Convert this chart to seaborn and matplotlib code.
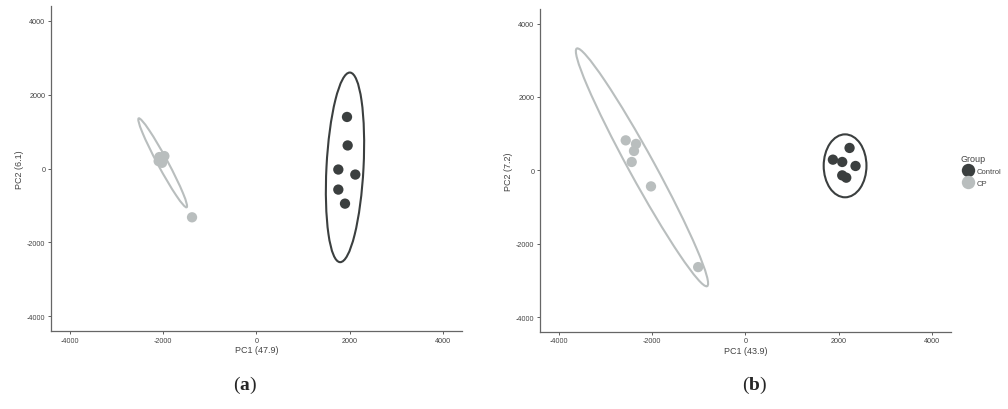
import numpy as np
import pandas as pd
import matplotlib
matplotlib.use("Agg")
import matplotlib.pyplot as plt
from matplotlib.patches import Ellipse
import seaborn as sns

# ── Dados ─────────────────────────────────────────────────────────────────────
GROUPS = ["Control", "CP"]
COLORS = {"Control": "#3b3f3f", "CP": "#b9bebe"}

# (a)
a_ctrl_pc1 = [1943, 1957, 1757, 2121, 1757, 1900]
a_ctrl_pc2 = [1396, 625, -27, -163, -570, -950]
a_cp_pc1 = [-2042, -1971, -2093, -2020, -2078, -1378]
a_cp_pc2 = [244, 337, 200, 155, 310, -1320]

# (b)
b_ctrl_pc1 = [2229, 1872, 2072, 2357, 2072, 2158]
b_ctrl_pc2 = [611, 292, 229, 120, -136, -199]
b_cp_pc1 = [-2564, -2344, -2387, -2436, -2023, -1013]
b_cp_pc2 = [818, 720, 529, 229, -436, -2634]

# elipses: centro, semi-diâmetro maior (u) e conjugado (v), em unidades de dados
a_ell_ctrl = {"c": (1900, 32), "u": (107, 2566), "v": (396, -27)}
a_ell_cp = {"c": (-2007, 155), "u": (514, -1203), "v": (94, 65)}
b_ell_ctrl = {"c": (2133, 124), "u": (0, 857), "v": (458, 0)}
b_ell_cp = {"c": (-2216, 83), "u": (1396, -3236), "v": (238, 166)}

x_labels = ["PC1 (47.9)", "PC1 (43.9)"]
y_labels = ["PC2 (6.1)", "PC2 (7.2)"]
captions = ["a", "b"]
ticks = [-4000, -2000, 0, 2000, 4000]


def make_df(c1, c2, p1, p2):
    return pd.DataFrame({
        "PC1": c1 + p1,
        "PC2": c2 + p2,
        "Group": ["Control"] * len(c1) + ["CP"] * len(p1),
    })


def add_ellipse(ax, e, color):
    u = np.array(e["u"], float)
    v = np.array(e["v"], float)
    m = np.outer(u, u) + np.outer(v, v)
    vals, vecs = np.linalg.eigh(m)
    ang = np.degrees(np.arctan2(vecs[1, 1], vecs[0, 1]))
    ax.add_patch(Ellipse(e["c"], 2 * np.sqrt(vals[1]), 2 * np.sqrt(vals[0]),
                         angle=ang, fill=False, edgecolor=color, lw=1.5, zorder=1))


sns.set_style("white")
plt.rcParams["font.family"] = ["Liberation Sans", "DejaVu Sans"]
plt.rcParams["axes.unicode_minus"] = False
plt.rcParams["mathtext.fontset"] = "custom"
plt.rcParams["mathtext.bf"] = "Liberation Serif:bold"

fig = plt.figure(figsize=(10.08, 4.10), dpi=100)
axes = [fig.add_axes([0.0506, 0.190, 0.4074, 0.793]),
        fig.add_axes([0.5357, 0.188, 0.4077, 0.788])]

dfs = [make_df(a_ctrl_pc1, a_ctrl_pc2, a_cp_pc1, a_cp_pc2),
       make_df(b_ctrl_pc1, b_ctrl_pc2, b_cp_pc1, b_cp_pc2)]
ells = [(a_ell_ctrl, a_ell_cp), (b_ell_ctrl, b_ell_cp)]
cap_x = [0.243, 0.749]

for i, ax in enumerate(axes):
    sns.scatterplot(data=dfs[i], x="PC1", y="PC2", hue="Group", hue_order=GROUPS,
                    palette=COLORS, s=55, edgecolor="none", ax=ax,
                    legend=(i == 1), zorder=2)
    add_ellipse(ax, ells[i][0], COLORS["Control"])
    add_ellipse(ax, ells[i][1], COLORS["CP"])
    ax.set_xlim(-4400, 4400)
    ax.set_ylim(-4400, 4400)
    ax.set_xticks(ticks)
    ax.set_yticks(ticks)
    ax.set_xlabel(x_labels[i], fontsize=6.5, color="#444444", labelpad=1)
    ax.set_ylabel(y_labels[i], fontsize=6.5, color="#444444", labelpad=2)
    ax.tick_params(axis="both", labelsize=5.2, colors="#444444", length=2,
                   width=0.6, pad=2, left=True, bottom=True)
    for s in ["top", "right"]:
        ax.spines[s].set_visible(False)
    for s in ["left", "bottom"]:
        ax.spines[s].set_color("#666666")
        ax.spines[s].set_linewidth(0.9)
    fig.text(cap_x[i], 0.035, r"($\mathbf{" + captions[i] + "}$)", fontsize=14,
             family="Liberation Serif", ha="center", va="bottom")

leg = axes[1].legend(title="Group", loc="center left", bbox_to_anchor=(1.01, 0.50),
                     frameon=False, fontsize=5.5, title_fontsize=6.5, markerscale=1.3,
                     handletextpad=0.1, labelspacing=0.6, borderpad=0.2)
leg._legend_box.align = "left"
leg.get_title().set_color("#444444")
for t in leg.get_texts():
    t.set_color("#444444")

fig.savefig("out.png", dpi=100)
